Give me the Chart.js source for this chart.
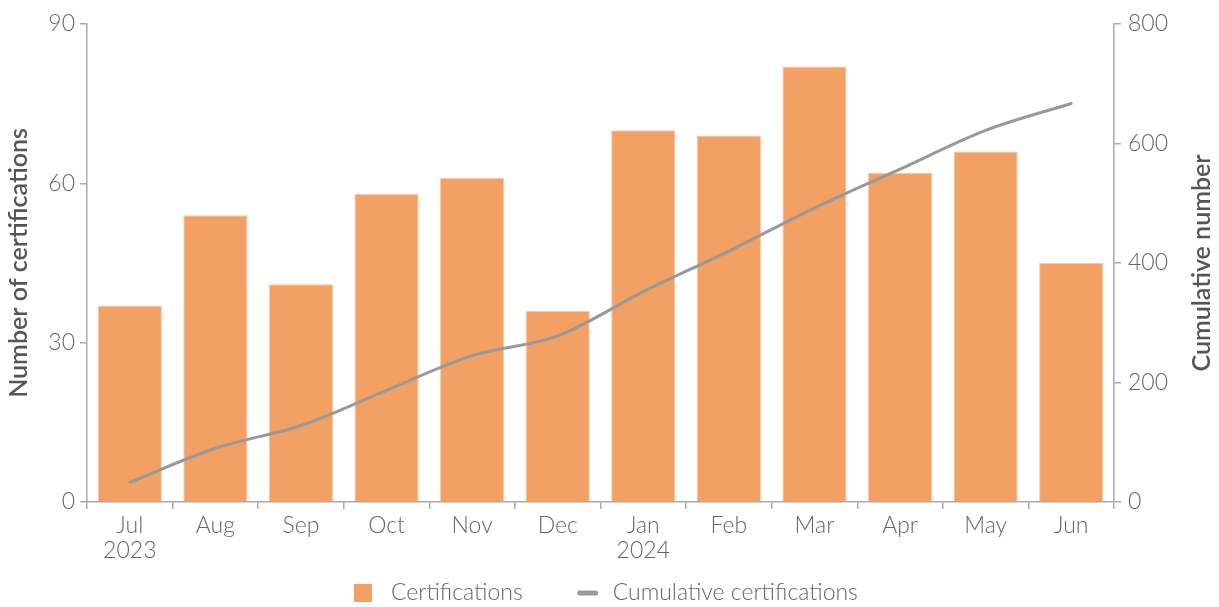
<!DOCTYPE html>
<html lang="en">
<head>
    <title>Certifications</title>
    <script src="https://cdn.jsdelivr.net/npm/chart.js"></script>
    <style>
        body { margin: 0; background: #fff; }
        #wrap { width: 1219px; height: 607px; }
    </style>
</head>
<body>
    <div id="wrap"><canvas id="chart"></canvas></div>
    <script>
        // data
        const months = [['Jul', '2023'], 'Aug', 'Sep', 'Oct', 'Nov', 'Dec', ['Jan', '2024'], 'Feb', 'Mar', 'Apr', 'May', 'Jun'];
        const certifications = [37, 54, 41, 58, 61, 36, 70, 69, 82, 62, 66, 45];
        const cumulative = [33, 90, 128, 187, 245, 278, 352, 420, 492, 557, 622, 667];

        const textColor = '#666';
        const titleColor = '#555';
        const axisColor = '#aaa';
        const fontFamily = 'Lato, "Open Sans", sans-serif';
        const tickFont = { family: fontFamily, size: 23, weight: 300, lineHeight: 1.1 };
        const titleFont = { family: fontFamily, size: 25, weight: 600 };

        // right axis title reads bottom-to-top like the left one,
        // and the legend is drawn by hand so spacing matches
        const extras = {
            id: 'extras',
            afterDraw(chart) {
                const ctx = chart.ctx;
                const s = chart.scales.y1;
                ctx.save();
                ctx.translate(s.right - 13, (chart.chartArea.top + chart.chartArea.bottom) / 2);
                ctx.rotate(-Math.PI / 2);
                ctx.font = titleFont.weight + ' ' + titleFont.size + 'px ' + fontFamily;
                ctx.fillStyle = titleColor;
                ctx.textAlign = 'center';
                ctx.textBaseline = 'middle';
                ctx.fillText('Cumulative number', 0, 0);
                ctx.restore();

                // legend
                const bar = chart.data.datasets[1];
                const line = chart.data.datasets[0];
                ctx.save();
                ctx.font = '300 23px ' + fontFamily;
                ctx.textBaseline = 'middle';
                ctx.fillStyle = textColor;
                const w1 = ctx.measureText(bar.label).width;
                const w2 = ctx.measureText(line.label).width;
                const total = 18 + 19 + w1 + 55 + 20 + 15 + w2;
                let x = Math.round(chart.width / 2 - total / 2 - 4);
                const y = 593;
                ctx.fillStyle = bar.backgroundColor;
                ctx.fillRect(x, y - 9, 18, 18);
                x += 18 + 19;
                ctx.fillStyle = textColor;
                ctx.fillText(bar.label, x, y);
                x += w1 + 55;
                ctx.strokeStyle = line.borderColor;
                ctx.lineWidth = 5;
                ctx.lineCap = 'round';
                ctx.beginPath();
                ctx.moveTo(x + 2, y);
                ctx.lineTo(x + 18, y);
                ctx.stroke();
                x += 20 + 15;
                ctx.fillText(line.label, x, y);
                ctx.restore();
            }
        };

        new Chart(document.getElementById('chart').getContext('2d'), {
            data: {
                labels: months,
                datasets: [{
                    type: 'line',
                    label: 'Cumulative certifications',
                    data: cumulative,
                    yAxisID: 'y1',
                    borderColor: '#999',
                    backgroundColor: '#999',
                    borderWidth: 3,
                    borderCapStyle: 'round',
                    cubicInterpolationMode: 'monotone',
                    pointRadius: 0,
                    order: 0
                }, {
                    type: 'bar',
                    label: 'Certifications',
                    data: certifications,
                    yAxisID: 'y',
                    backgroundColor: '#F2A064',
                    borderColor: '#F8C9A4',
                    borderWidth: { top: 1, left: 1, right: 1, bottom: 0 },
                    barPercentage: 0.75,
                    categoryPercentage: 1,
                    order: 1
                }]
            },
            options: {
                responsive: true,
                maintainAspectRatio: false,
                animation: false,
                layout: { padding: { top: 24, left: 4, right: 4, bottom: 44 } },
                plugins: {
                    legend: { display: false },
                    tooltip: { enabled: false }
                },
                scales: {
                    x: {
                        grid: { display: true, drawOnChartArea: false, offset: true, color: axisColor, tickLength: 7, lineWidth: 1.5 },
                        border: { color: axisColor, width: 1.5 },
                        ticks: { color: textColor, font: tickFont, maxRotation: 0, padding: 4 },
                        afterFit(scale) { scale.height = 61; }
                    },
                    y: {
                        position: 'left',
                        min: 0,
                        max: 90,
                        ticks: { stepSize: 30, color: textColor, font: tickFont, padding: 5 },
                        grid: { display: true, drawOnChartArea: false, color: axisColor, tickLength: 7, lineWidth: 1.5 },
                        border: { color: axisColor, width: 1.5 },
                        title: { display: true, text: 'Number of certifications', color: titleColor, font: titleFont, padding: { top: 0, bottom: 0 } },
                        afterFit(scale) { scale.width = 83; }
                    },
                    y1: {
                        position: 'right',
                        min: 0,
                        max: 800,
                        ticks: { stepSize: 200, color: textColor, font: tickFont, padding: 7 },
                        grid: { display: true, drawOnChartArea: false, color: axisColor, tickLength: 7, lineWidth: 1.5 },
                        border: { color: axisColor, width: 1.5 },
                        afterFit(scale) { scale.width = 101; }
                    }
                }
            },
            plugins: [extras]
        });
    </script>
</body>
</html>
